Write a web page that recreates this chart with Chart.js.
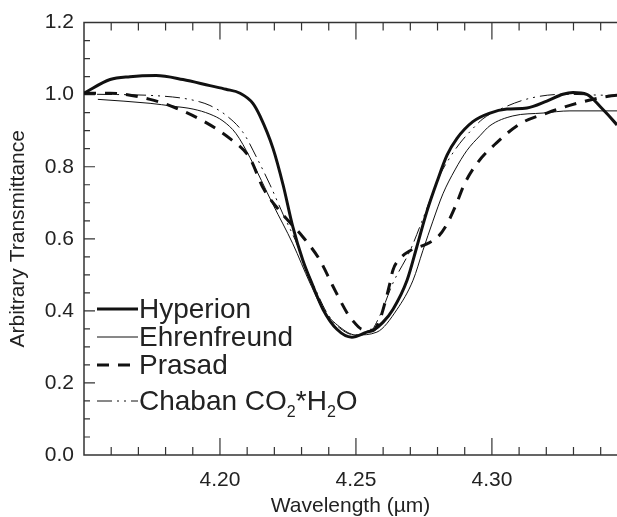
<!DOCTYPE html>
<html>
<head>
<meta charset="utf-8">
<script src="https://cdn.jsdelivr.net/npm/chart.js@4.4.0/dist/chart.umd.min.js"></script>
<style>
  html, body { margin: 0; padding: 0; background: #fff; }
  #wrap { width: 617px; height: 517px; }
</style>
</head>
<body>
<div id="wrap"><canvas id="chart" width="617" height="517"></canvas></div>
<script>
const seriesNames = ["Hyperion", "Ehrenfreund", "Prasad", "Chaban CO₂*H₂O"];

// wavelength (um) / transmittance
const hyperionX = [4.1500, 4.1596, 4.1669, 4.1765, 4.1864, 4.1963, 4.2022, 4.2074, 4.2121, 4.2147, 4.2195, 4.2232, 4.2268, 4.2305, 4.2342, 4.2379, 4.2430, 4.2485, 4.2540, 4.2563, 4.2599, 4.2636, 4.2688, 4.2724, 4.2761, 4.2798, 4.2835, 4.2871, 4.2930, 4.2993, 4.3055, 4.3129, 4.3202, 4.3261, 4.3298, 4.3349, 4.3397, 4.3460, 4.3508];
const hyperionY = [1.004, 1.042, 1.050, 1.053, 1.042, 1.025, 1.015, 1.004, 0.976, 0.941, 0.851, 0.750, 0.633, 0.540, 0.469, 0.404, 0.349, 0.327, 0.341, 0.346, 0.368, 0.404, 0.485, 0.578, 0.676, 0.758, 0.832, 0.878, 0.925, 0.949, 0.960, 0.963, 0.982, 1.001, 1.006, 1.001, 0.968, 0.916, 0.870];

const ehrenfreundX = [4.1551, 4.1743, 4.1827, 4.1901, 4.1963, 4.2011, 4.2059, 4.2110, 4.2195, 4.2268, 4.2331, 4.2379, 4.2441, 4.2500, 4.2577, 4.2651, 4.2710, 4.2746, 4.2783, 4.2820, 4.2864, 4.2908, 4.2956, 4.2993, 4.3077, 4.3188, 4.3287, 4.3460, 4.3508];
const ehrenfreundY = [0.987, 0.976, 0.968, 0.960, 0.946, 0.927, 0.892, 0.826, 0.695, 0.586, 0.477, 0.404, 0.355, 0.333, 0.341, 0.404, 0.485, 0.567, 0.649, 0.725, 0.791, 0.845, 0.886, 0.914, 0.941, 0.949, 0.955, 0.955, 0.955];

const prasadX = [4.1500, 4.1596, 4.1743, 4.1838, 4.1938, 4.2037, 4.2110, 4.2158, 4.2221, 4.2305, 4.2368, 4.2415, 4.2467, 4.2485, 4.2522, 4.2563, 4.2588, 4.2607, 4.2625, 4.2636, 4.2662, 4.2699, 4.2761, 4.2801, 4.2835, 4.2864, 4.2901, 4.2949, 4.3018, 4.3103, 4.3202, 4.3313, 4.3423, 4.3508];
const prasadY = [1.004, 1.004, 0.987, 0.963, 0.927, 0.878, 0.824, 0.742, 0.676, 0.605, 0.540, 0.469, 0.395, 0.376, 0.349, 0.346, 0.376, 0.423, 0.477, 0.513, 0.545, 0.567, 0.586, 0.605, 0.641, 0.687, 0.755, 0.813, 0.867, 0.919, 0.949, 0.976, 0.995, 1.001];

const chabanX = [4.1548, 4.1743, 4.1864, 4.1926, 4.1963, 4.2022, 4.2085, 4.2136, 4.2184, 4.2232, 4.2283, 4.2320, 4.2357, 4.2393, 4.2441, 4.2496, 4.2551, 4.2588, 4.2636, 4.2699, 4.2746, 4.2809, 4.2846, 4.2882, 4.2919, 4.2967, 4.3040, 4.3140, 4.3261, 4.3460, 4.3508];
const chabanY = [1.001, 0.998, 0.990, 0.980, 0.970, 0.943, 0.895, 0.824, 0.750, 0.668, 0.586, 0.513, 0.450, 0.395, 0.352, 0.333, 0.341, 0.387, 0.477, 0.567, 0.655, 0.777, 0.826, 0.865, 0.897, 0.933, 0.963, 0.990, 1.001, 0.998, 0.998];

const xTickLabels = [4.20, 4.25, 4.30];
const yTickLabels = [0.0, 0.2, 0.4, 0.6, 0.8, 1.0, 1.2];

const FONT = "'Liberation Sans', Arial, Helvetica, sans-serif";
const INK = "#111";

function pts(xs, ys) {
  return xs.map((x, i) => ({ x: x, y: ys[i] }));
}

const datasets = [
  { label: seriesNames[0], data: pts(hyperionX, hyperionY), borderWidth: 3, borderDash: [] },
  { label: seriesNames[1], data: pts(ehrenfreundX, ehrenfreundY), borderWidth: 1, borderDash: [] },
  { label: seriesNames[2], data: pts(prasadX, prasadY), borderWidth: 3, borderDash: [12, 9] },
  { label: seriesNames[3], data: pts(chabanX, chabanY), borderWidth: 1, borderDash: [15, 5, 2, 5, 2, 5] }
].map(d => Object.assign(d, {
  borderColor: INK,
  pointRadius: 0,
  fill: false,
  cubicInterpolationMode: "monotone"
}));

// frame with inward ticks (major + minor), drawn through the scales
const frame = {
  id: "frame",
  beforeDatasetsDraw(chart) {
    const { ctx, chartArea: a, scales: { x, y } } = chart;
    ctx.save();
    ctx.strokeStyle = "#333";
    ctx.lineWidth = 1.5;
    ctx.beginPath();
    ctx.moveTo(a.right, a.top);
    ctx.lineTo(a.left, a.top);
    ctx.lineTo(a.left, a.bottom);
    ctx.lineTo(a.right, a.bottom);
    ctx.stroke();

    ctx.lineWidth = 1.2;
    ctx.beginPath();
    for (let k = 416; k <= 434; k++) {
      const px = x.getPixelForValue(k / 100);
      const len = k % 5 === 0 ? 17 : 8;
      ctx.moveTo(px, a.bottom);
      ctx.lineTo(px, a.bottom - len);
      ctx.moveTo(px, a.top);
      ctx.lineTo(px, a.top + len);
    }
    for (let k = 1; k < 24; k++) {
      const py = y.getPixelForValue(k * 0.05);
      const len = k % 4 === 0 ? 11 : 6;
      ctx.moveTo(a.left, py);
      ctx.lineTo(a.left + len, py);
    }
    ctx.stroke();
    ctx.restore();
  }
};

// legend inside the plot, lower left
const innerLegend = {
  id: "innerLegend",
  afterDatasetsDraw(chart, args, opts) {
    const { ctx } = chart;
    ctx.save();
    chart.data.datasets.forEach((ds, i) => {
      const ly = opts.rows[i];
      ctx.strokeStyle = ds.borderColor;
      ctx.lineWidth = ds.borderWidth;
      ctx.setLineDash(ds.borderDash);
      ctx.beginPath();
      ctx.moveTo(opts.x0, ly);
      ctx.lineTo(opts.x1, ly);
      ctx.stroke();
      ctx.setLineDash([]);

      ctx.fillStyle = "#222";
      ctx.textBaseline = "alphabetic";
      ctx.textAlign = "left";
      let tx = opts.x1 + 1;
      const base = ly + 9;
      for (const ch of ds.label) {
        if (ch === "₂") {
          ctx.font = "16px " + FONT;
          ctx.fillText("2", tx, base + 7);
          tx += ctx.measureText("2").width;
        } else {
          ctx.font = "28px " + FONT;
          ctx.fillText(ch, tx, base);
          tx += ctx.measureText(ch).width;
        }
      }
    });
    ctx.restore();
  }
};

new Chart(document.getElementById("chart"), {
  type: "line",
  data: { datasets: datasets },
  options: {
    responsive: false,
    animation: false,
    layout: { padding: { top: 15, right: 0, bottom: 0, left: 0 } },
    plugins: {
      legend: { display: false },
      tooltip: { enabled: false },
      innerLegend: { x0: 97, x1: 138, rows: [309, 337, 365, 401] }
    },
    scales: {
      x: {
        type: "linear",
        min: 4.15,
        max: 4.346,
        afterBuildTicks: s => { s.ticks = xTickLabels.map(v => ({ value: v })); },
        afterFit: s => { s.height = 62; },
        grid: { display: false, drawTicks: false },
        border: { display: false },
        ticks: {
          padding: 13,
          color: "#222",
          font: { family: FONT, size: 21 },
          callback: v => v.toFixed(2)
        },
        title: {
          display: true,
          text: "Wavelength (µm)",
          color: "#222",
          font: { family: FONT, size: 21, lineHeight: 1 },
          padding: 0
        }
      },
      y: {
        min: 0,
        max: 1.2,
        afterBuildTicks: s => { s.ticks = yTickLabels.map(v => ({ value: v })); },
        afterFit: s => { s.width = 84; },
        grid: { display: false, drawTicks: false },
        border: { display: false },
        ticks: {
          padding: 10,
          color: "#222",
          font: { family: FONT, size: 21 },
          callback: v => v.toFixed(1)
        },
        title: {
          display: true,
          text: "Arbitrary Transmittance",
          color: "#222",
          font: { family: FONT, size: 21, lineHeight: 1 },
          padding: { top: 8, bottom: 0 }
        }
      }
    }
  },
  plugins: [frame, innerLegend]
});
</script>
</body>
</html>
